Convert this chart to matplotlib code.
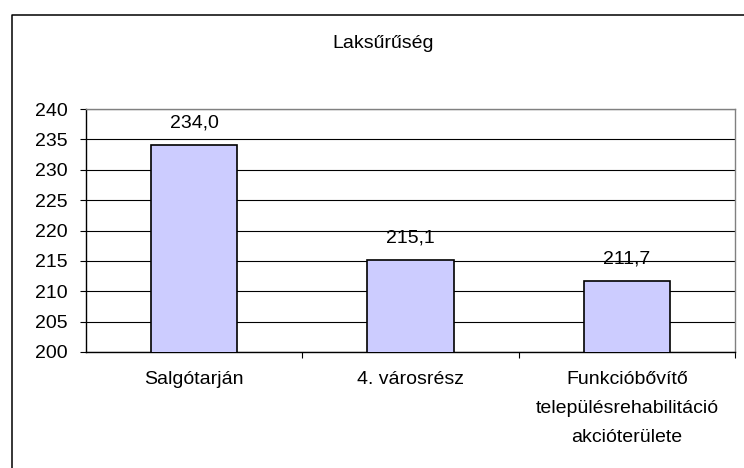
import matplotlib
matplotlib.use("Agg")
import matplotlib.pyplot as plt
from matplotlib.lines import Line2D

plt.rcParams['font.family'] = ['Liberation Sans', 'DejaVu Sans']

categories = ["Salgótarján", "4. városrész",
              "Funkcióbővítő\ntelepülésrehabilitáció\nakcióterülete"]
values = [234.0, 215.1, 211.7]
yticks = [200, 205, 210, 215, 220, 225, 230, 235, 240]

W, H = 744, 468
fig = plt.figure(figsize=(W / 100, H / 100), dpi=100)
fig.subplots_adjust(left=86 / W, right=735 / W, top=1 - 109 / H, bottom=1 - 352 / H)
ax = fig.add_subplot(111)

x = range(len(categories))
bars = ax.bar(x, values, width=0.4, color='#CCCCFF', edgecolor='black',
              linewidth=1.2, bottom=0, zorder=3)

for xi, v in zip(x, values):
    ax.annotate(f"{v:.1f}".replace('.', ','), (xi, v), xytext=(0, 16),
                textcoords='offset points', ha='center', va='center',
                fontsize=14, zorder=4)

ax.set_ylim(200, 240)
ax.set_xlim(-0.5, 2.5)
ax.set_yticks(yticks)
ax.yaxis.grid(True, color='black', linewidth=0.8, zorder=0)
ax.set_axisbelow(True)

ax.set_xticks(list(x))
ax.set_xticklabels(categories, fontsize=14, linespacing=1.9, va='top')
ax.set_xticks([0.5, 1.5, 2.5], minor=True)
ax.tick_params(axis='x', which='major', length=0, pad=14)
ax.tick_params(axis='x', which='minor', length=4, width=0.8, direction='out')
ax.tick_params(axis='y', length=4.3, width=0.8, pad=9, labelsize=14)

ax.spines['left'].set_color('black')
ax.spines['bottom'].set_color('black')
ax.spines['top'].set_color('#808080')
ax.spines['right'].set_color('#808080')
for s in ax.spines.values():
    s.set_linewidth(1.0)

fig.text(383 / W, 1 - 43 / H, "Laksűrűség", ha='center', va='center', fontsize=14)

# outer chart frame (only left and top edges inside the crop)
fig.add_artist(Line2D([12 / W, 12 / W, 1.0], [0.0, 1 - 15 / H, 1 - 15 / H],
                      transform=fig.transFigure, color='black', linewidth=1.1))

fig.savefig("out.png", dpi=100)
